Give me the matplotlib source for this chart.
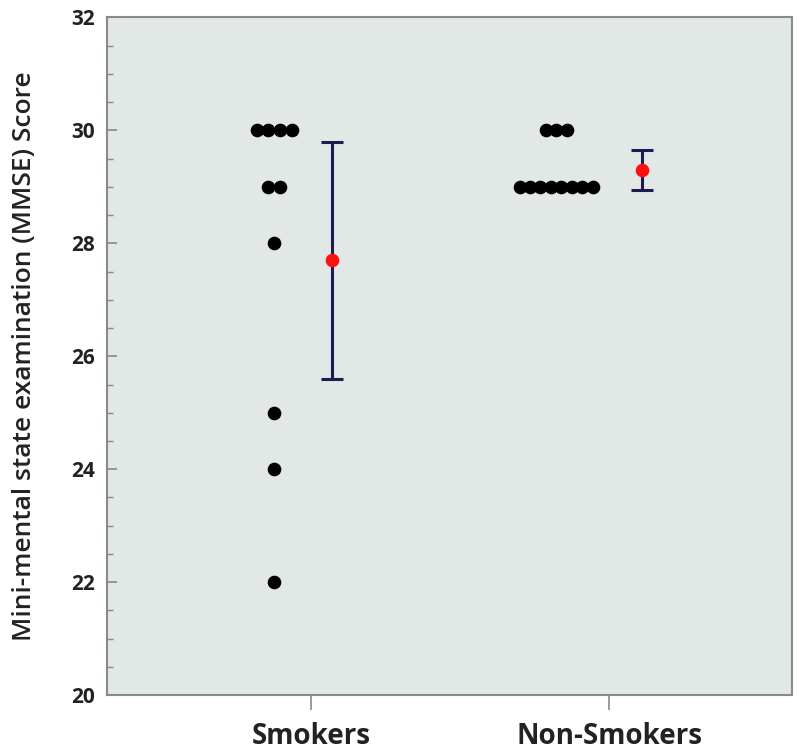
import matplotlib.pyplot as plt
import numpy as np

# MMSE scores
groups = ['Smokers', 'Non-Smokers']
smokers = [30, 30, 30, 30, 29, 29, 28, 25, 24, 22]
non_smokers = [30, 30, 30, 29, 29, 29, 29, 29, 29, 29, 29]

means = [27.7, 29.3]
ci_low = [25.6, 28.95]
ci_high = [29.8, 29.65]

plt.rcParams['font.family'] = ['Open Sans', 'DejaVu Sans']

fig = plt.figure(figsize=(8, 7.54), dpi=100)
ax = fig.add_axes([0.134, 0.078, 0.856, 0.899])
ax.set_facecolor('#e2e8e6')

group_pos = [1, 2]
dot_offset = [-0.124, -0.178]
dot_step = [0.039, 0.035]
err_offset = [0.07, 0.111]

for k, scores in enumerate([smokers, non_smokers]):
    scores = np.array(scores)
    for v in np.unique(scores):
        n = (scores == v).sum()
        xs = group_pos[k] + dot_offset[k] + (np.arange(n) - (n - 1) / 2) * dot_step[k]
        ax.plot(xs, [v] * n, 'o', color='black', markersize=8.8, zorder=3)

    xe = group_pos[k] + err_offset[k]
    ax.errorbar(xe, means[k],
                yerr=[[means[k] - ci_low[k]], [ci_high[k] - means[k]]],
                fmt='none', ecolor='#1c1c50', elinewidth=2.2, capsize=8, capthick=2.2, zorder=2)
    ax.plot(xe, means[k], 'o', color='#ff1010', markersize=8.8, zorder=4)

ax.set_xlim(0.315, 2.614)
ax.set_ylim(20, 32)
ax.set_xticks(group_pos)
ax.set_xticklabels(groups, fontsize=20, fontweight='bold')
ax.set_yticks(np.arange(20, 33, 2))
ax.set_yticks(np.arange(20, 32.01, 0.5), minor=True)
ax.tick_params(axis='y', which='major', direction='in', length=7, width=1.2,
               colors='#888888', labelcolor='#222222', labelsize=15, pad=9)
ax.tick_params(axis='y', which='minor', direction='in', length=4, width=1, color='#888888')
ax.tick_params(axis='x', which='major', direction='out', length=11, width=1.2,
               colors='#888888', labelcolor='#222222', pad=8)
for lab in ax.get_yticklabels():
    lab.set_fontweight('bold')

for sp in ax.spines.values():
    sp.set_color('#8a8a8a')
    sp.set_linewidth(1.5)

ax.set_ylabel('Mini-mental state examination (MMSE) Score', fontsize=19,
              fontweight='semibold', color='#222222', labelpad=24)

fig.savefig('out.png', dpi=100)
